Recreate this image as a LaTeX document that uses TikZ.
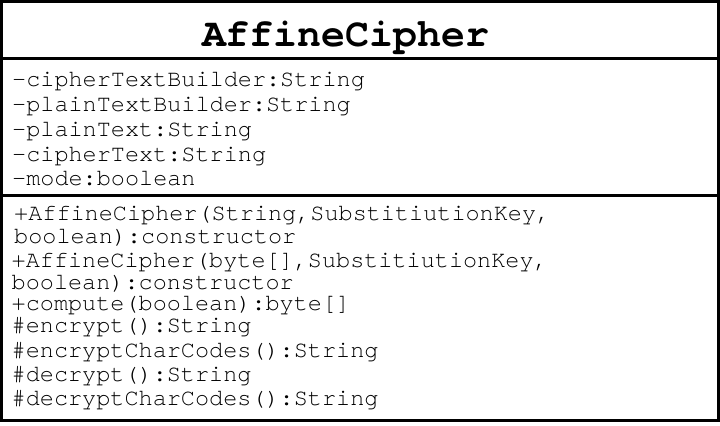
\documentclass[tikz,border=0pt]{standalone}
\usepackage{fontspec}
\newfontfamily\umlfont{texgyrecursor}[
  Extension=.otf,
  UprightFont=*-regular,
  BoldFont=*-bold,
  Ligatures={NoCommon,NoRare,NoContextual}]

\begin{document}
\begin{tikzpicture}[x=1bp,y=-1bp,
  member/.style={anchor=base west, inner sep=0pt,
    font=\umlfont\fontsize{23.6}{25}\selectfont},
  classname/.style={anchor=base, inner sep=0pt,
    font=\umlfont\bfseries\fontsize{40}{42}\selectfont},
  frame/.style={line width=3bp}]
\useasboundingbox (0,0) rectangle (720,425);

% outline and compartments
\draw[frame] (1.5,1.5) rectangle (718.5,420.5);
\draw[frame] (1.5,58) -- (718.5,58);
\draw[frame] (1.5,195) -- (718.5,195);

% class name
\node[classname] (title) at (345.5,46.5) {AffineCipher};

% attributes
\node[member] (attrA) at (12,86.5) {-cipherTextBuilder:String};
\node[member] (attrB) at (12,111.5) {-plainTextBuilder:String};
\node[member] (attrC) at (12,136.5) {-plainText:String};
\node[member] (attrD) at (12,161.5) {-cipherText:String};
\node[member] (attrE) at (12,185.5) {-mode:boolean};

% operations
\node[member] (opA) at (14,220) {+AffineCipher(String,SubstitiutionKey,};
\node[member] (opB) at (14,243) {boolean):constructor};
\node[member] (opC) at (11.5,267) {+AffineCipher(byte[],SubstitiutionKey,};
\node[member] (opD) at (11.5,289.5) {boolean):constructor};
\node[member] (opE) at (11.5,310.5) {+compute(boolean):byte[]};
\node[member] (opF) at (11.5,332.5) {\#encrypt():String};
\node[member] (opG) at (11.5,357) {\#encryptCharCodes():String};
\node[member] (opH) at (11.5,381) {\#decrypt():String};
\node[member] (opI) at (11.5,405.5) {\#decryptCharCodes():String};
\end{tikzpicture}
\end{document}
